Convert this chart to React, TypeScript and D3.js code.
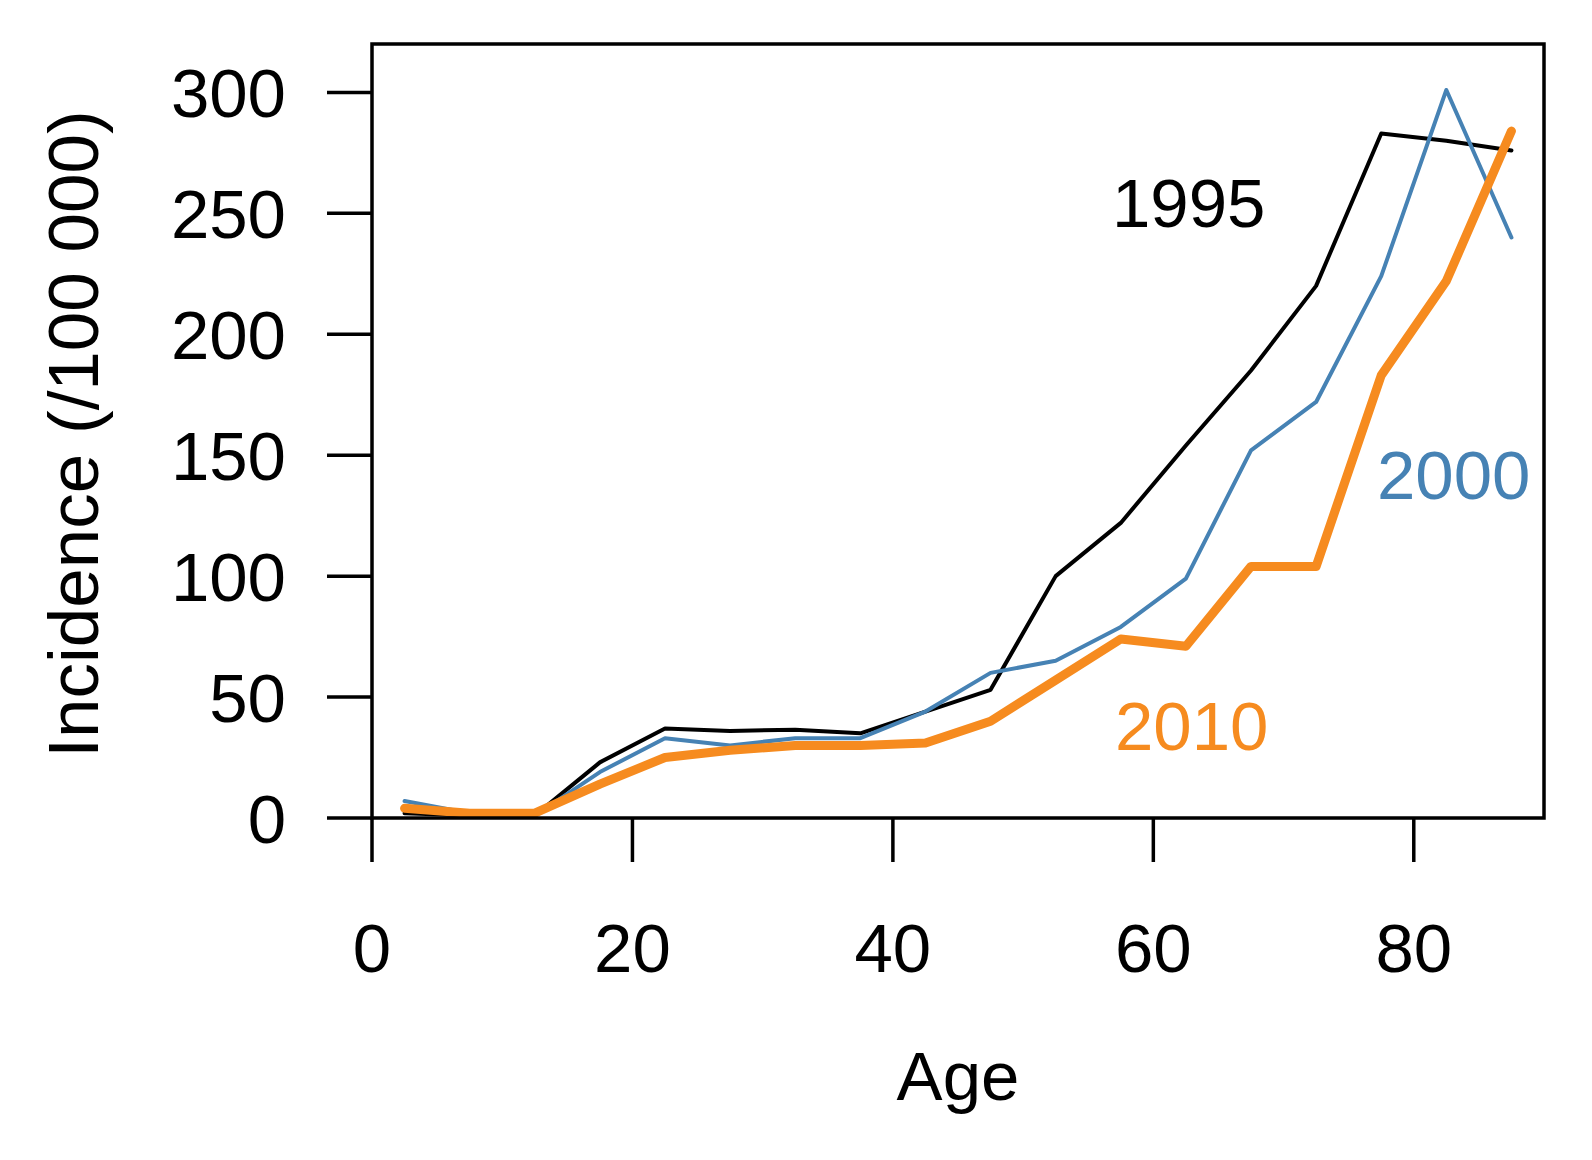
import React from "react"
import * as d3 from "d3"

const ages = [2.5, 7.5, 12.5, 17.5, 22.5, 27.5, 32.5, 37.5, 42.5, 47.5, 52.5, 57.5, 62.5, 67.5, 72.5, 77.5, 82.5, 87.5]
const y1995 = [2, 1, 1, 23, 37, 36, 36.5, 35, 44, 53, 100, 122, 154, 185, 220, 283, 280, 276]
const y2000 = [7, 2, 1, 19, 33, 30, 33, 33, 44, 60, 65, 79, 99, 152, 172, 224, 301, 240]
const y2010 = [4, 2, 2, 14, 25, 28, 30, 30, 31, 40, 57, 74, 71, 104, 104, 183, 222, 284]

const xTicks = [0, 20, 40, 60, 80]
const yTicks = [0, 50, 100, 150, 200, 250, 300]

const series = [
  { name: "1995", values: y1995, color: "#000000", width: 4, labelX: 1112, labelY: 227 },
  { name: "2000", values: y2000, color: "#4682B4", width: 4, labelX: 1377, labelY: 499 },
  { name: "2010", values: y2010, color: "#F68B1F", width: 9, labelX: 1115, labelY: 750 },
]

const W = 1592
const H = 1160
const left = 372
const right = 1544
const top = 44
const bottom = 818
const font = "'Liberation Sans', Arial, sans-serif"
const fs = 69

export default function App() {
  const x = d3.scaleLinear().domain([0, 90]).range([left, right])
  const y = d3.scaleLinear().domain([0, 320]).range([bottom, top])

  const line = d3
    .line<number>()
    .x((_d, i) => x(ages[i]))
    .y((d) => y(d))

  return (
    <svg width={W} height={H} style={{ position: "absolute", left: 0, top: 0, background: "#fff" }}>
      <rect x={0} y={0} width={W} height={H} fill="#fff" />
      {series.map((s) => (
        <path
          key={s.name}
          d={line(s.values) || ""}
          fill="none"
          stroke={s.color}
          strokeWidth={s.width}
          strokeLinejoin="round"
          strokeLinecap="round"
        />
      ))}
      {/* frame */}
      <rect x={left} y={top} width={right - left} height={bottom - top} fill="none" stroke="#000" strokeWidth={3.5} />

      {/* y axis */}
      {yTicks.map((t) => (
        <g key={"y" + t}>
          <line x1={left - 45} x2={left} y1={y(t)} y2={y(t)} stroke="#000" strokeWidth={3.5} />
          <text x={286} y={y(t) + 25} textAnchor="end" fontFamily={font} fontSize={fs} fill="#000">
            {t}
          </text>
        </g>
      ))}

      {/* x axis */}
      {xTicks.map((t) => (
        <g key={"x" + t}>
          <line x1={x(t)} x2={x(t)} y1={bottom} y2={bottom + 44} stroke="#000" strokeWidth={3.5} />
          <text x={x(t)} y={972} textAnchor="middle" fontFamily={font} fontSize={fs} fill="#000">
            {t}
          </text>
        </g>
      ))}

      <text x={(left + right) / 2} y={1100} textAnchor="middle" fontFamily={font} fontSize={fs} fill="#000">
        Age
      </text>
      <text
        transform={`translate(98, ${(top + bottom) / 2 + 3}) rotate(-90)`}
        textAnchor="middle"
        fontFamily={font}
        fontSize={71}
        fill="#000"
      >
        Incidence (/100 000)
      </text>

      {series.map((s) => (
        <text key={"l" + s.name} x={s.labelX} y={s.labelY} fontFamily={font} fontSize={fs} fill={s.color}>
          {s.name}
        </text>
      ))}
    </svg>
  )
}
